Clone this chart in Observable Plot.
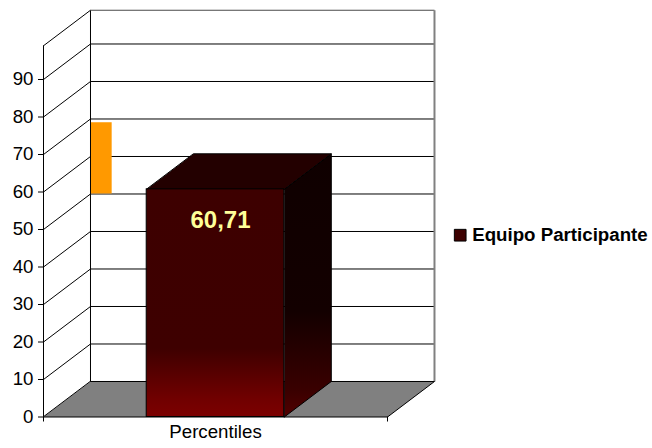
<!DOCTYPE html>
<html>
<head>
<meta charset="utf-8">
<script src="https://cdn.jsdelivr.net/npm/d3@7"></script>
<script src="https://cdn.jsdelivr.net/npm/@observablehq/plot@0.6"></script>
<style>
  html, body { margin: 0; padding: 0; background: #fff; }
  #chart svg { display: block; }
</style>
</head>
<body>
<div id="chart"></div>
<script>
// Chart data
const categories = ["Percentiles"];
const seriesName = "Equipo Participante";
const values = [60.71];
const yTicks = [0, 10, 20, 30, 40, 50, 60, 70, 80, 90];
const wallTop = 99;
const markerRange = [50, 69];

// Oblique projection of the depth axis, in scale units
const DX = 0.1366, DY = 9.47;
const barWidth = 0.4;
const fmt = v => v.toFixed(2).replace(".", ",");

const n = categories.length;
const bars = values.map((v, i) => {
  const cx = (i + 0.5) / n;
  return {category: categories[i], value: v, label: fmt(v), cx,
          x0: cx - barWidth / 2 / n, x1: cx + barWidth / 2 / n};
});

const poly = (pts, face) => pts.map(([x, y]) => ({x, y, face}));
const backWall = poly([[DX, DY], [1 + DX, DY], [1 + DX, wallTop + DY], [DX, wallTop + DY]], "back");
const floor = poly([[0, 0], [1, 0], [1 + DX, DY], [DX, DY]], "floor");
const barTops = bars.flatMap((b, i) => poly([[b.x0, b.value], [b.x1, b.value], [b.x1 + DX, b.value + DY], [b.x0 + DX, b.value + DY]], "top" + i));
const barSides = bars.flatMap((b, i) => poly([[b.x1, 0], [b.x1 + DX, DY], [b.x1 + DX, b.value + DY], [b.x1, b.value]], "side" + i));

const gridValues = yTicks.filter(v => v > 0);

// Gradient definitions for the shaded column faces
function gradients() {
  const g = d3.create("svg:g");
  const defs = g.append("defs");
  const add = (id, stops) => {
    const lg = defs.append("linearGradient").attr("id", id)
      .attr("x1", 0).attr("y1", 0).attr("x2", 0).attr("y2", 1);
    stops.forEach(([o, c]) => lg.append("stop").attr("offset", o).attr("stop-color", c));
  };
  add("barFront", [[0, "#3d0000"], [0.7, "#3e0000"], [0.92, "#700000"], [1, "#7c0000"]]);
  add("barSide", [[0, "#0f0000"], [0.6, "#130000"], [0.9, "#3a0000"], [1, "#520000"]]);
  return g.node();
}

const chart = Plot.plot({
  width: 652,
  height: 448,
  marginLeft: 43,
  marginRight: 265,
  marginTop: 41.5,
  marginBottom: 31.5,
  style: {fontFamily: "'Liberation Sans', Arial, sans-serif", fontSize: "18.7px", color: "#000", background: "#fff"},
  x: {domain: [0, 1], axis: null},
  y: {domain: [0, 100], axis: null},
  marks: [
    gradients,
    // back wall
    Plot.line(backWall, {x: "x", y: "y", fill: "#fff", stroke: "none", curve: "linear-closed"}),
    Plot.link(gridValues, {x1: DX, x2: 1 + DX, y1: d => d + DY, y2: d => d + DY, stroke: "#000", strokeWidth: 1}),
    // side wall diagonals
    Plot.link([...gridValues, wallTop], {x1: 0, x2: DX, y1: d => d, y2: d => d + DY, stroke: "#000", strokeWidth: 1}),
    // marker on the back wall
    Plot.rect([markerRange], {x1: DX + 0.002, x2: DX + 0.063, y1: d => d[0] + DY, y2: d => d[1] + DY, fill: "#ff9900"}),
    Plot.link([0], {x1: DX, x2: DX, y1: DY, y2: wallTop + DY, stroke: "#000"}),
    Plot.link([0], {x1: DX, x2: 1 + DX, y1: wallTop + DY, y2: wallTop + DY, stroke: "#4a4a4a", strokeWidth: 1.2}),
    Plot.link([0], {x1: 1 + DX, x2: 1 + DX, y1: DY, y2: wallTop + DY, stroke: "#808080", strokeWidth: 2}),
    // floor
    Plot.line(floor, {x: "x", y: "y", fill: "#808080", stroke: "#000", strokeWidth: 1, curve: "linear-closed"}),
    // column
    Plot.line(barSides, {x: "x", y: "y", z: "face", fill: "url(#barSide)", stroke: "#000", strokeWidth: 1, curve: "linear-closed"}),
    Plot.line(barTops, {x: "x", y: "y", z: "face", fill: "#230000", stroke: "#000", strokeWidth: 1, curve: "linear-closed"}),
    Plot.rect(bars, {x1: "x0", x2: "x1", y1: 0, y2: "value", fill: "url(#barFront)", stroke: "#000", strokeWidth: 1}),
    Plot.text(bars, {x: "cx", y: "value", text: "label", dx: 5, dy: 30.5, fill: "#ffff99", fontWeight: "bold", fontSize: 24}),
    // axes
    Plot.ruleX([0], {y1: 0, y2: wallTop, stroke: "#000"}),
    Plot.axisY({ticks: yTicks, tickSize: 5, tickPadding: 5, fontSize: 18.7, tickFormat: d => String(d)}),
    Plot.axisX({ticks: [0, 1], tickSize: 5, tickFormat: () => ""}),
    Plot.text(bars, {x: "cx", frameAnchor: "bottom", text: "category", dy: 21.3, fontSize: 18.7}),
    // legend
    Plot.dot([seriesName], {frameAnchor: "right", dx: 72.7, dy: 5.7, symbol: "square", r: 6.6, fill: "#3d0000", stroke: "#000", strokeWidth: 1}),
    Plot.text([seriesName], {frameAnchor: "right", text: d => d, dx: 84.7, dy: 5.7, textAnchor: "start", fontWeight: "bold", fontSize: 18.7})
  ]
});

document.getElementById("chart").append(chart);
</script>
</body>
</html>
